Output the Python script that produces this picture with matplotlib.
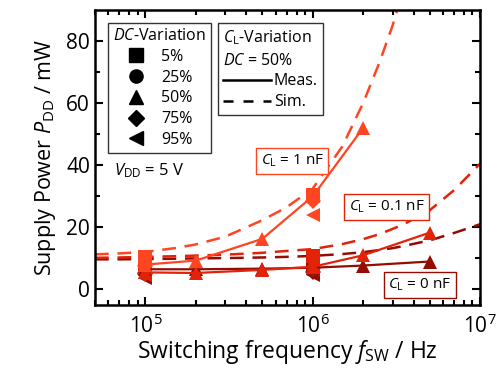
import matplotlib
matplotlib.use("Agg")
import matplotlib.pyplot as plt
from matplotlib.lines import Line2D

plt.rcParams['font.family'] = ['Open Sans', 'DejaVu Sans']
plt.rcParams['mathtext.fontset'] = 'custom'
plt.rcParams['mathtext.rm'] = 'Open Sans'
plt.rcParams['mathtext.it'] = 'Open Sans:italic'

# colours per load capacitance
col_1n = '#ff4522'
col_01n = '#e2230a'
col_0n = '#940c02'

# duty cycles and their markers
dc_labels = ['5%', '25%', '50%', '75%', '95%']
dc_markers = ['s', 'o', '^', 'D', '<']

# measured values at 100 kHz and 1 MHz for each duty cycle (mW), DC=50% is below
f_two = [1e5, 1e6]
meas_1n = [[10.5, 30.5], [9.5, 30.0], [8.0, 30.0], [7.5, 28.5], [7.0, 24.0]]
meas_01n = [[8.0, 10.8], [7.0, 9.8], [5.5, 7.3], [5.0, 7.0], [4.5, 6.5]]
meas_0n = [[7.3, 8.0], [6.5, 7.2], [6.5, 7.0], [5.2, 5.5], [3.8, 4.5]]

# DC = 50% sweeps
f_tri_1n = [1e5, 2e5, 5e5, 1e6, 2e6]
p_tri_1n = [8.0, 9.3, 16.3, 30.0, 52.0]
f_tri = [1e5, 2e5, 5e5, 1e6, 2e6, 5e6]
p_tri_01n = [5.5, 5.3, 6.3, 7.3, 11.0, 18.3]
p_tri_0n = [6.5, 6.5, 6.7, 7.0, 7.7, 9.0]

# simulation curves
f_sim = [5e4, 7e4, 1e5, 1.5e5, 2e5, 3e5, 5e5, 7e5, 1e6, 1.5e6, 2e6, 2.5e6, 3e6, 3.5e6,
         5e6, 7e6, 1e7]
sim_1n = [11.3, 11.6, 12.1, 13.3, 14.5, 17.0, 22.3, 26.5, 32.5, 46.0, 60.0, 73.0, 85.0, 97.0,
          130, 180, 260]
sim_01n = [10.2, 10.3, 10.5, 10.7, 10.9, 11.2, 11.8, 12.4, 13.0, 14.6, 16.2, 17.8, 19.5, 21.0,
           25.5, 32.0, 40.5]
sim_0n = [9.7, 9.7, 9.8, 9.9, 10.0, 10.1, 10.3, 10.5, 10.8, 11.4, 12.0, 12.7, 13.3, 14.0,
          15.8, 18.2, 21.0]

fig = plt.figure(figsize=(4.96, 3.81), dpi=100)
ax = fig.add_axes([0.1915, 0.1995, 0.7765, 0.7745])

# simulations (dashed)
for p, c in [(sim_0n, col_0n), (sim_01n, col_01n), (sim_1n, col_1n)]:
    ax.plot(f_sim, p, color=c, lw=1.8, ls=(0, (5.5, 3.5)))

# measured points for the other duty cycles
for meas, c in [(meas_0n, col_0n), (meas_01n, col_01n), (meas_1n, col_1n)]:
    for i in range(5):
        if dc_markers[i] == '^':
            continue
        ax.plot(f_two, meas[i], color=c, ls='none', marker=dc_markers[i],
                ms=9.5 if dc_markers[i] != 'D' else 8.5, markeredgewidth=0)
# DC = 50% measured sweeps with lines
ax.plot(f_tri, p_tri_0n, color=col_0n, lw=1.6, marker='^', ms=10.5, markeredgewidth=0)
ax.plot(f_tri, p_tri_01n, color=col_01n, lw=1.6, marker='^', ms=10.5, markeredgewidth=0)
ax.plot(f_tri_1n, p_tri_1n, color=col_1n, lw=1.6, marker='^', ms=10.5, markeredgewidth=0)

ax.set_xscale('log')
ax.set_xlim(5e4, 1e7)
ax.set_ylim(-5, 90)
ax.set_yticks([0, 20, 40, 60, 80])
ax.set_yticks(range(10, 90, 20), minor=True)
ax.tick_params(which='both', direction='in', top=True, right=True, labelsize=15, width=1.5)
ax.tick_params(which='major', length=6)
ax.tick_params(which='minor', length=3.5)
ax.tick_params(axis='x', pad=7)
for s in ax.spines.values():
    s.set_linewidth(1.8)

ax.set_xlabel(r'Switching frequency $f_\mathrm{SW}$ / Hz', fontsize=16.5, labelpad=0)
ax.set_ylabel(r'Supply Power $P_\mathrm{DD}$ / mW', fontsize=15.5, labelpad=6)

# legend: duty cycle
h_dc = [Line2D([], [], color='black', ls='none', marker=m, ms=9.5 if m != 'D' else 8.5)
        for m in dc_markers]
leg1 = ax.legend(h_dc, dc_labels, title=r'$DC$-Variation', loc='upper left',
                 bbox_to_anchor=(0.034, 0.955), fontsize=11.5, title_fontsize=11.5,
                 frameon=True, fancybox=False, edgecolor='black', handletextpad=1.0,
                 borderpad=0.3, labelspacing=0.3, handlelength=1.2, borderaxespad=0)
leg1.get_frame().set_linewidth(1.0)
ax.add_artist(leg1)

# legend: load capacitance
h_cl = [Line2D([], [], color='black', lw=1.8), Line2D([], [], color='black', lw=1.8, ls=(0, (4, 4)))]
leg2 = ax.legend(h_cl, ['Meas.', 'Sim.'], title='$C_\\mathrm{L}$-Variation\n$DC$ = 50%',
                 loc='upper left', bbox_to_anchor=(0.319, 0.955), fontsize=11.5,
                 title_fontsize=11.5, frameon=True, fancybox=False, edgecolor='black',
                 handletextpad=0.2, borderpad=0.3, labelspacing=0.3, handlelength=3.0,
                 borderaxespad=0, alignment='left')
leg2.get_frame().set_linewidth(1.0)
leg2.get_title().set_linespacing(1.5)

ax.text(0.14, 0.455, r'$V_\mathrm{DD}$ = 5 V', transform=ax.transAxes, fontsize=12,
        ha='center', va='center')

box = dict(boxstyle='square,pad=0.3', facecolor='white', lw=1.0)
ax.text(0.512, 0.488, r'$C_\mathrm{L}$ = 1 nF', transform=ax.transAxes, fontsize=11,
        ha='center', va='center', bbox=dict(box, edgecolor=col_1n))
ax.text(0.758, 0.332, r'$C_\mathrm{L}$ = 0.1 nF', transform=ax.transAxes, fontsize=11,
        ha='center', va='center', bbox=dict(box, edgecolor=col_01n))
ax.text(0.844, 0.068, r'$C_\mathrm{L}$ = 0 nF', transform=ax.transAxes, fontsize=11,
        ha='center', va='center', bbox=dict(box, edgecolor=col_0n))

fig.savefig('out.png', dpi=100)
